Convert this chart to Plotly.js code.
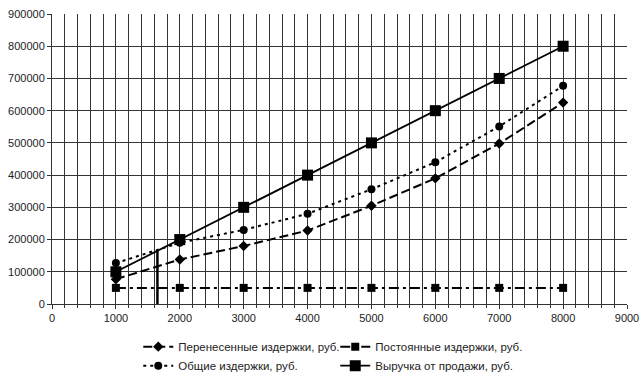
<!DOCTYPE html>
<html><head><meta charset="utf-8">
<script src="https://cdn.plot.ly/plotly-3.0.1.min.js"></script>
<style>html,body{margin:0;padding:0;background:#fff}#chart{width:642px;height:379px}</style>
</head><body><div id="chart"></div>
<script>
const volume = [1000, 2000, 3000, 4000, 5000, 6000, 7000, 8000];
const variableCosts = [77000, 138000, 180000, 228000, 305000, 390000, 498000, 625000];
const fixedCosts = [50000, 50000, 50000, 50000, 50000, 50000, 50000, 50000];
const totalCosts = [127000, 190000, 230000, 280000, 356000, 440000, 551000, 677000];
const revenue = [100000, 200000, 300000, 400000, 500000, 600000, 700000, 800000];
const breakEvenX = [1650, 1650];
const breakEvenY = [0, 166000];
const names = ['Перенесенные издержки, руб.', 'Постоянные издержки, руб.', 'Общие издержки, руб.', 'Выручка от продажи, руб.'];

const traces = [
  {x: volume, y: variableCosts, name: names[0], mode: 'lines+markers',
   line: {color: '#000', width: 2, dash: '9px,4px'}, marker: {symbol: 'diamond', size: 8, color: '#000'}},
  {x: volume, y: fixedCosts, name: names[1], mode: 'lines+markers',
   line: {color: '#000', width: 2, dash: '10px,4px,3px,4px'}, marker: {symbol: 'square', size: 8, color: '#000'}},
  {x: volume, y: totalCosts, name: names[2], mode: 'lines+markers',
   line: {color: '#000', width: 2, dash: '3px,4px'}, marker: {symbol: 'circle', size: 8, color: '#000'}},
  {x: volume, y: revenue, name: names[3], mode: 'lines+markers',
   line: {color: '#000', width: 1.8}, marker: {symbol: 'square', size: 11, color: '#000'}},
  {x: breakEvenX, y: breakEvenY, mode: 'lines', showlegend: false, hoverinfo: 'skip',
   line: {color: '#000', width: 2.5}}
];

const layout = {
  width: 642, height: 379,
  margin: {l: 52, r: 15, t: 14, b: 75, autoexpand: false},
  paper_bgcolor: '#fff', plot_bgcolor: '#fff',
  font: {family: 'Liberation Sans, Arial, sans-serif', size: 11, color: '#222'},
  showlegend: true,
  xaxis: {range: [0, 9000], dtick: 1000, tick0: 0, showgrid: true, gridcolor: '#333', gridwidth: 1,
    zeroline: false, showline: true, linecolor: '#333', linewidth: 1, mirror: false,
    ticks: 'outside', ticklen: 4, tickcolor: '#333', automargin: false,
    minor: {dtick: 200, showgrid: true, gridcolor: '#333', gridwidth: 1, ticks: 'outside', ticklen: 3, tickcolor: '#333'},
    tickfont: {size: 11}},
  yaxis: {range: [0, 900000], dtick: 100000, showgrid: true, gridcolor: '#333', gridwidth: 1,
    zeroline: false, showline: true, linecolor: '#333', linewidth: 1, automargin: false,
    ticks: 'outside', ticklen: 4, tickcolor: '#333', tickformat: 'd', tickfont: {size: 11}},
  legend: {orientation: 'h', x: 0.15, xanchor: 'left', y: -0.097, yanchor: 'top',
    entrywidth: 152, entrywidthmode: 'pixels', font: {size: 11.5, color: '#222'},
    itemwidth: 30, tracegroupgap: 0, bgcolor: 'rgba(0,0,0,0)'}
};

Plotly.newPlot('chart', traces, layout, {staticPlot: true, displayModeBar: false});
</script></body></html>
